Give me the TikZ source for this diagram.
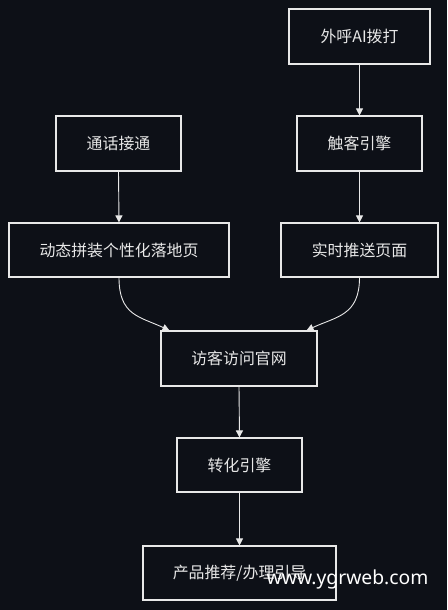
\documentclass[tikz,border=0pt]{standalone}
\usepackage{fontspec}
\newfontfamily\cjk{Noto Sans CJK SC}
\setmainfont{Noto Sans}
\usetikzlibrary{arrows.meta,calc}
\definecolor{bg}{RGB}{13,16,23}
\definecolor{fg}{RGB}{232,232,232}
\begin{document}
\begin{tikzpicture}[x=1pt,y=-1pt,
  box/.style={draw=fg,line width=1.1pt,fill=bg,text=fg,font=\cjk\fontsize{15.9}{18}\selectfont,inner sep=0pt,minimum height=55pt},
  arr/.style={draw=fg,line width=0.9pt,-{Triangle[width=7pt,length=7pt]}}]
\fill[bg] (0,0) rectangle (447,610);
\useasboundingbox (0,0) rectangle (447,610);
\node[box,minimum width=141pt] (call) at (359.5,36.5) {外呼AI拨打};
\node[box,minimum width=125pt] (conn) at (118.5,143.5) {通话接通};
\node[box,minimum width=125pt] (touch) at (359.5,143.5) {触客引擎};
\node[box,minimum width=220pt,minimum height=54pt] (dyn) at (119,250) {动态拼装个性化落地页};
\node[box,minimum width=157pt,minimum height=54pt] (push) at (359.5,250) {实时推送页面};
\node[box,minimum width=156pt] (visit) at (239,358.5) {访客访问官网};
\node[box,minimum width=125pt,minimum height=54pt] (conv) at (239.5,465) {转化引擎};
\node[box,minimum width=193pt,minimum height=54pt] (prod) at (239.5,573) {产品推荐/办理引导};
\coordinate (vl) at ($(visit.north west)+(9,0)$);
\coordinate (vr) at ($(visit.north east)+(-11,0)$);
\draw[arr] (call.south) -- (touch.north);
\draw[arr] (touch.south) -- (push.north);
\draw[arr] (conn.south) -- (dyn.north);
\draw[arr] (dyn.south) .. controls ($(dyn.south)+(0,38)$) and ($(vl)+(-30,-14)$) .. (vl);
\draw[arr] (push.south) .. controls ($(push.south)+(0,38)$) and ($(vr)+(30,-14)$) .. (vr);
\draw[arr] (visit.south) -- (conv.north);
\draw[arr] (conv.south) -- (prod.north);
\node[text=white,font=\fontsize{19.3}{21}\selectfont,inner sep=0pt] (wm) at (347.5,579) {www.ygrweb.com};
\end{tikzpicture}
\end{document}
